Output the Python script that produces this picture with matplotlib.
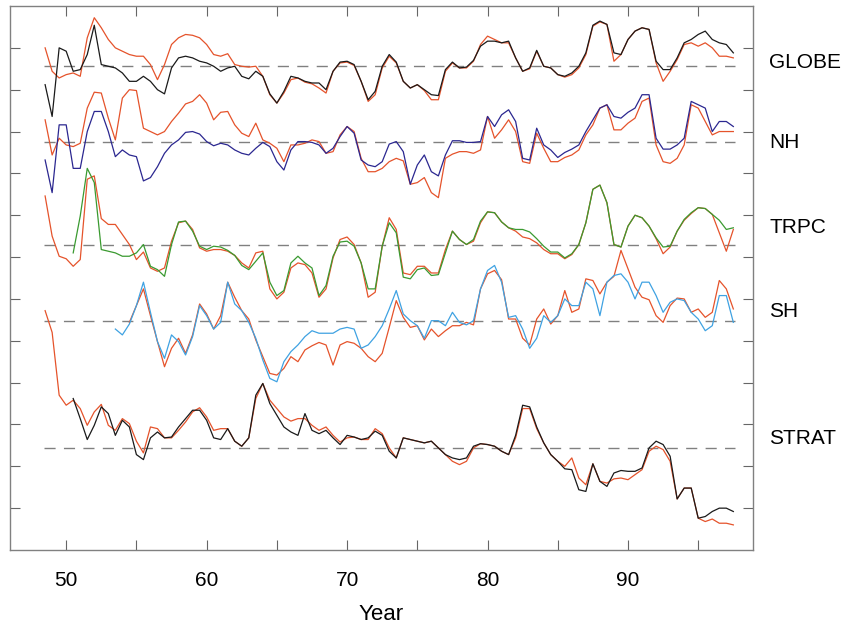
import numpy as np
import matplotlib
matplotlib.use("Agg")
import matplotlib.pyplot as plt

plt.rcParams['font.family'] = ['Liberation Sans', 'DejaVu Sans']

nan = np.nan
years = np.arange(48.5, 97.51, 0.5)

# anomalies (K) relative to each panel's dashed line
globe_a = [0.22, -0.06, -0.14, -0.10, -0.08, -0.12, 0.34, 0.58, 0.46, 0.32,
           0.22, 0.18, 0.14, 0.12, 0.12, 0.02, -0.16, 0.02, 0.26, 0.34,
           0.38, 0.37, 0.34, 0.26, 0.14, 0.12, 0.15, 0.02, 0.00, -0.01,
           0.00, -0.12, -0.34, -0.44, -0.32, -0.16, -0.14, -0.19, -0.21, -0.26,
           -0.32, -0.06, 0.04, 0.05, 0.01, -0.18, -0.42, -0.34, -0.02, 0.12,
           0.04, -0.18, -0.26, -0.22, -0.29, -0.40, -0.40, -0.06, 0.04, -0.02,
           -0.02, 0.06, 0.26, 0.36, 0.32, 0.28, 0.28, 0.10, -0.06, -0.03,
           0.18, 0.00, -0.02, -0.10, -0.13, -0.10, -0.02, 0.14, 0.48, 0.53,
           0.50, 0.06, 0.14, 0.32, 0.42, 0.46, 0.44, 0.04, -0.18, -0.06,
           0.08, 0.26, 0.28, 0.24, 0.28, 0.22, 0.12, 0.12, 0.10]
globe_b = [-0.22, -0.60, 0.22, 0.18, -0.06, -0.04, 0.14, 0.49, 0.02, 0.00,
           -0.02, -0.08, -0.18, -0.18, -0.12, -0.18, -0.28, -0.33, -0.02, 0.10,
           0.12, 0.10, 0.06, 0.04, 0.00, -0.06, -0.02, 0.00, -0.12, -0.15,
           -0.06, -0.12, -0.33, -0.44, -0.30, -0.12, -0.14, -0.18, -0.20, -0.20,
           -0.28, -0.06, 0.05, 0.06, 0.02, -0.18, -0.40, -0.30, 0.00, 0.14,
           0.05, -0.18, -0.26, -0.22, -0.28, -0.34, -0.35, -0.04, 0.05, -0.02,
           -0.01, 0.07, 0.24, 0.30, 0.30, 0.28, 0.30, 0.10, -0.06, -0.02,
           0.19, 0.00, -0.02, -0.10, -0.12, -0.08, 0.00, 0.16, 0.49, 0.54,
           0.50, 0.16, 0.14, 0.32, 0.42, 0.46, 0.44, 0.06, -0.04, -0.04,
           0.10, 0.28, 0.32, 0.38, 0.42, 0.32, 0.28, 0.26, 0.16]

nh_a = [0.27, -0.15, 0.05, -0.03, -0.05, -0.01, 0.41, 0.60, 0.59, 0.29,
        0.03, 0.53, 0.63, 0.62, 0.17, 0.13, 0.09, 0.13, 0.25, 0.35,
        0.46, 0.49, 0.57, 0.47, 0.27, 0.36, 0.37, 0.21, 0.11, 0.07,
        0.23, 0.03, -0.01, -0.07, -0.23, -0.03, -0.03, -0.01, 0.03, 0.01,
        -0.13, -0.11, 0.09, 0.19, 0.13, -0.19, -0.35, -0.35, -0.31, -0.23,
        -0.19, -0.22, -0.50, -0.48, -0.42, -0.60, -0.66, -0.19, -0.14, -0.11,
        -0.11, -0.13, -0.09, 0.31, 0.05, 0.15, 0.27, 0.13, -0.23, -0.25,
        0.11, -0.07, -0.23, -0.23, -0.18, -0.15, -0.09, 0.09, 0.21, 0.41,
        0.45, 0.15, 0.15, 0.23, 0.29, 0.49, 0.53, -0.03, -0.23, -0.25,
        -0.19, -0.03, 0.45, 0.41, 0.25, 0.09, 0.13, 0.13, 0.13]
nh_b = [-0.21, -0.60, 0.21, 0.21, -0.31, -0.31, 0.13, 0.37, 0.37, 0.13,
        -0.17, -0.09, -0.15, -0.17, -0.46, -0.42, -0.29, -0.13, -0.03, 0.03,
        0.12, 0.13, 0.10, 0.01, -0.04, -0.01, -0.03, -0.09, -0.13, -0.15,
        -0.07, 0.00, -0.05, -0.23, -0.33, -0.09, 0.01, 0.01, 0.00, -0.03,
        -0.13, -0.07, 0.07, 0.19, 0.11, -0.21, -0.27, -0.29, -0.23, -0.02,
        0.01, -0.11, -0.50, -0.27, -0.15, -0.35, -0.40, -0.15, 0.02, 0.02,
        0.00, 0.00, 0.01, 0.31, 0.19, 0.33, 0.39, 0.25, -0.19, -0.21,
        0.17, -0.03, -0.09, -0.18, -0.12, -0.08, -0.03, 0.13, 0.27, 0.41,
        0.45, 0.31, 0.29, 0.36, 0.41, 0.57, 0.57, 0.05, -0.08, -0.08,
        -0.03, 0.05, 0.49, 0.45, 0.41, 0.13, 0.25, 0.25, 0.19]

trpc_a = [0.59, 0.11, -0.13, -0.16, -0.25, -0.17, 0.79, 0.83, 0.32, 0.25,
          0.25, 0.13, 0.01, -0.17, -0.08, -0.27, -0.31, -0.27, 0.05, 0.27,
          0.29, 0.19, -0.03, -0.07, -0.05, -0.05, -0.07, -0.12, -0.21, -0.27,
          -0.09, -0.07, -0.52, -0.64, -0.56, -0.27, -0.21, -0.23, -0.33, -0.62,
          -0.52, -0.15, 0.07, 0.10, 0.01, -0.21, -0.62, -0.56, -0.01, 0.33,
          0.19, -0.33, -0.35, -0.25, -0.25, -0.33, -0.33, -0.05, 0.17, 0.07,
          0.01, 0.05, 0.27, 0.40, 0.39, 0.28, 0.21, 0.17, 0.10, 0.08,
          0.03, -0.05, -0.10, -0.10, -0.16, -0.11, 0.01, 0.27, 0.67, 0.72,
          0.51, 0.01, -0.02, 0.23, 0.36, 0.33, 0.23, 0.08, -0.10, -0.02,
          0.17, 0.30, 0.38, 0.45, 0.44, 0.37, 0.15, -0.07, 0.19]
trpc_b = [nan, nan, nan, nan, -0.09, 0.35, 0.92, 0.75, -0.05, -0.07,
          -0.09, -0.13, -0.13, -0.09, 0.01, -0.25, -0.29, -0.37, 0.01, 0.28,
          0.29, 0.17, -0.01, -0.05, -0.01, -0.02, -0.06, -0.12, -0.24, -0.29,
          -0.19, -0.09, -0.44, -0.60, -0.54, -0.21, -0.13, -0.21, -0.27, -0.60,
          -0.48, -0.13, 0.04, 0.05, -0.01, -0.21, -0.52, -0.52, -0.01, 0.27,
          0.15, -0.38, -0.40, -0.29, -0.27, -0.36, -0.35, -0.09, 0.17, 0.07,
          0.01, 0.07, 0.29, 0.40, 0.39, 0.28, 0.21, 0.19, 0.19, 0.16,
          0.08, -0.01, -0.08, -0.08, -0.15, -0.10, 0.01, 0.27, 0.67, 0.72,
          0.51, 0.01, -0.02, 0.23, 0.36, 0.33, 0.23, 0.09, -0.02, -0.01,
          0.17, 0.31, 0.39, 0.45, 0.44, 0.37, 0.30, 0.19, 0.21]

sh_a = [nan] * 10 + [
        nan, nan, -0.02, 0.18, 0.38, 0.06, -0.25, -0.55, -0.33, -0.21,
        -0.39, -0.17, 0.20, 0.08, -0.10, 0.06, 0.46, 0.28, 0.12, 0.02,
        -0.23, -0.43, -0.63, -0.65, -0.57, -0.43, -0.49, -0.35, -0.30, -0.26,
        -0.29, -0.53, -0.29, -0.25, -0.27, -0.33, -0.43, -0.49, -0.39, -0.08,
        0.24, 0.04, -0.08, -0.06, -0.23, -0.10, -0.19, -0.12, -0.06, -0.06,
        -0.02, -0.05, 0.38, 0.56, 0.60, 0.49, 0.02, 0.02, -0.21, -0.29,
        0.02, 0.14, -0.04, 0.06, 0.36, 0.10, 0.14, 0.50, 0.48, 0.32,
        0.46, 0.53, 0.84, 0.62, 0.40, 0.28, 0.25, 0.06, -0.02, 0.18,
        0.27, 0.26, 0.10, 0.14, 0.04, 0.10, 0.48, 0.38, 0.14]
sh_b = [nan] * 10 + [
        -0.10, -0.17, -0.04, 0.18, 0.46, 0.10, -0.25, -0.45, -0.17, -0.25,
        -0.41, -0.19, 0.18, 0.06, -0.10, -0.02, 0.46, 0.20, 0.12, -0.02,
        -0.21, -0.47, -0.69, -0.73, -0.49, -0.37, -0.29, -0.19, -0.12, -0.15,
        -0.15, -0.15, -0.10, -0.08, -0.10, -0.33, -0.29, -0.19, -0.06, 0.14,
        0.36, 0.08, 0.00, -0.06, -0.21, 0.00, 0.00, -0.06, 0.10, -0.02,
        -0.05, 0.00, 0.38, 0.60, 0.66, 0.46, 0.04, 0.06, -0.10, -0.33,
        -0.21, 0.06, -0.02, 0.06, 0.26, 0.18, 0.18, 0.46, 0.38, 0.06,
        0.46, 0.54, 0.56, 0.46, 0.26, 0.46, 0.46, 0.30, 0.10, 0.22,
        0.26, 0.24, 0.10, 0.02, -0.12, -0.06, 0.30, 0.30, -0.02]

strat_a = [1.64, 1.38, 0.63, 0.51, 0.57, 0.47, 0.27, 0.43, 0.52, 0.27,
           0.21, 0.35, 0.29, 0.08, -0.06, 0.25, 0.23, 0.12, 0.12, 0.21,
           0.31, 0.43, 0.48, 0.37, 0.21, 0.23, 0.23, 0.08, 0.02, 0.12,
           0.59, 0.77, 0.57, 0.47, 0.37, 0.32, 0.35, 0.35, 0.27, 0.21,
           0.25, 0.15, 0.07, 0.12, 0.13, 0.10, 0.10, 0.23, 0.17, 0.00,
           -0.12, 0.12, 0.10, 0.08, 0.06, 0.08, 0.00, -0.08, -0.16, -0.20,
           -0.16, 0.00, 0.05, 0.04, 0.02, -0.04, -0.08, 0.12, 0.47, 0.47,
           0.23, 0.06, -0.08, -0.16, -0.22, -0.12, -0.36, -0.44, -0.19, -0.40,
           -0.42, -0.37, -0.36, -0.38, -0.32, -0.26, -0.04, 0.02, -0.02, -0.16,
           -0.61, -0.48, -0.48, -0.84, -0.88, -0.85, -0.90, -0.90, -0.92]
strat_b = [nan, nan, nan, nan, 0.59, 0.35, 0.10, 0.27, 0.49, 0.41,
           0.15, 0.33, 0.25, -0.08, -0.14, 0.12, 0.19, 0.12, 0.13, 0.25,
           0.35, 0.45, 0.45, 0.33, 0.12, 0.10, 0.23, 0.08, 0.02, 0.12,
           0.63, 0.77, 0.53, 0.39, 0.25, 0.19, 0.15, 0.41, 0.21, 0.17,
           0.21, 0.12, 0.04, 0.15, 0.13, 0.10, 0.12, 0.20, 0.15, -0.04,
           -0.12, 0.12, 0.10, 0.08, 0.06, 0.08, 0.00, -0.08, -0.12, -0.14,
           -0.12, 0.02, 0.05, 0.04, 0.02, -0.04, -0.08, 0.15, 0.51, 0.49,
           0.25, 0.06, -0.08, -0.16, -0.25, -0.26, -0.50, -0.52, -0.19, -0.40,
           -0.46, -0.30, -0.27, -0.28, -0.28, -0.24, 0.00, 0.08, 0.04, -0.10,
           -0.61, -0.48, -0.48, -0.84, -0.82, -0.76, -0.72, -0.72, -0.76]

names = ['GLOBE', 'NH', 'TRPC', 'SH', 'STRAT']
offsets = [5.78, 4.87, 3.64, 2.74, 1.22]
label_y = [5.82, 4.87, 3.85, 2.85, 1.33]
series_a = [globe_a, nh_a, trpc_a, sh_a, strat_a]
series_b = [globe_b, nh_b, trpc_b, sh_b, strat_b]
colors_b = ['#1a1a1a', '#2b2790', '#3a9a30', '#3fa2e2', '#1a1a1a']
orange = '#e5532b'

fig = plt.figure(figsize=(8.68, 6.28), dpi=100)
ax = fig.add_axes([10 / 868, 78 / 628, 743 / 868, 544 / 628])

for name, off, ly, a, b, cb in zip(names, offsets, label_y, series_a, series_b, colors_b):
    ax.plot([48.4, 97.6], [off, off], color='#808080', lw=1.0, dashes=(8, 6))
    ax.plot(years, off + np.array(a), color=orange, lw=0.9)
    ax.plot(years, off + np.array(b), color=cb, lw=0.9)
    ax.text(1.022, (ly) / 6.5, name, transform=ax.transAxes, fontsize=15,
            va='center', ha='left', clip_on=False)

ax.set_xlim(46.0, 98.9)
ax.set_ylim(0, 6.5)
ax.set_xticks(np.arange(50, 96, 5))
ax.set_xticklabels(['50', '', '60', '', '70', '', '80', '', '90', ''])
ax.set_yticks(np.arange(0.5, 6.1, 0.5))
ax.set_yticklabels([])
ax.tick_params(direction='in', length=7, width=0.8, color='#666666',
               top=True, right=True, labelsize=15, pad=15)
for s in ax.spines.values():
    s.set_color('#808080')
    s.set_linewidth(1.0)
ax.set_xlabel('Year', fontsize=16, labelpad=10)

fig.savefig('out.png', dpi=100)
